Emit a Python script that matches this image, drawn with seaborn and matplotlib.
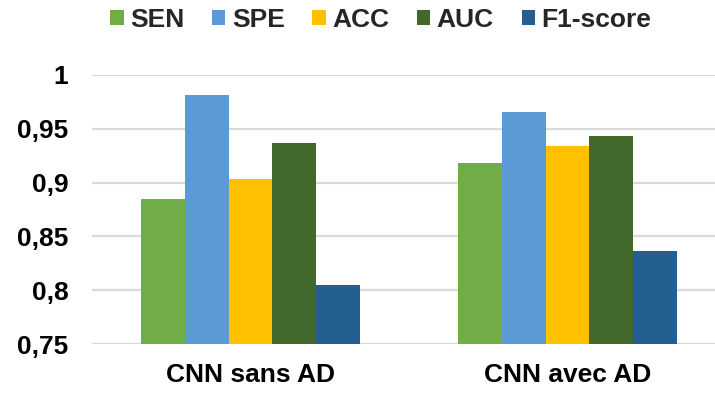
import matplotlib
matplotlib.use("Agg")
import matplotlib.pyplot as plt
import matplotlib.ticker as mticker
from matplotlib.patches import Patch
import pandas as pd
import seaborn as sns

# Data
models = ["CNN sans AD", "CNN avec AD"]
metrics = ["SEN", "SPE", "ACC", "AUC", "F1-score"]
sans_ad = [0.885, 0.981, 0.903, 0.937, 0.805]
avec_ad = [0.918, 0.966, 0.934, 0.943, 0.836]
yticks = [0.75, 0.8, 0.85, 0.9, 0.95, 1.0]
colors = ["#70AD47", "#5B9BD5", "#FFC000", "#43682B", "#255E91"]

rows = []
for model, vals in zip(models, [sans_ad, avec_ad]):
    for metric, v in zip(metrics, vals):
        rows.append({"model": model, "metric": metric, "value": v})
df = pd.DataFrame(rows)

sns.set_theme(style="white")
plt.rcParams["font.family"] = ["Liberation Sans", "DejaVu Sans"]
plt.rcParams["font.weight"] = "bold"

FS = 19

fig = plt.figure(figsize=(7.15, 3.94), dpi=100)
ax = fig.add_axes([92 / 715, 50 / 394, 634 / 715, 269 / 394])

sns.barplot(data=df, x="model", y="value", hue="metric", order=models,
            hue_order=metrics, palette=colors, saturation=1, width=0.693,
            gap=0, linewidth=0, ax=ax, legend=False, zorder=3)

ax.set_xlim(-0.5, 1.5)
ax.set_ylim(0.75, 1.0)
ax.set_yticks(yticks)
ax.yaxis.set_major_formatter(
    mticker.FuncFormatter(lambda v, _: f"{v:g}".replace(".", ",")))
ax.grid(axis="y", color="#d9d9d9", linewidth=1.6, zorder=0)
ax.set_axisbelow(True)
for s in ax.spines.values():
    s.set_visible(False)
ax.tick_params(axis="y", length=0, pad=17, labelsize=FS, labelcolor="black")
ax.tick_params(axis="x", length=0, pad=14, labelsize=FS, labelcolor="black")
for lab in ax.get_xticklabels() + ax.get_yticklabels():
    lab.set_fontweight("bold")
ax.set_xlabel("")
ax.set_ylabel("")

handles = [Patch(facecolor=c, edgecolor="none", label=m)
           for c, m in zip(colors, metrics)]
leg = fig.legend(handles=handles, loc="center", ncol=5,
                 bbox_to_anchor=(380.8 / 715, 1 - 20 / 394), frameon=False,
                 fontsize=FS, handlelength=0.5, handleheight=0.5,
                 handletextpad=0.25, columnspacing=1.05, borderpad=0)
for t in leg.get_texts():
    t.set_fontweight("bold")

fig.savefig("out.png", dpi=100)
